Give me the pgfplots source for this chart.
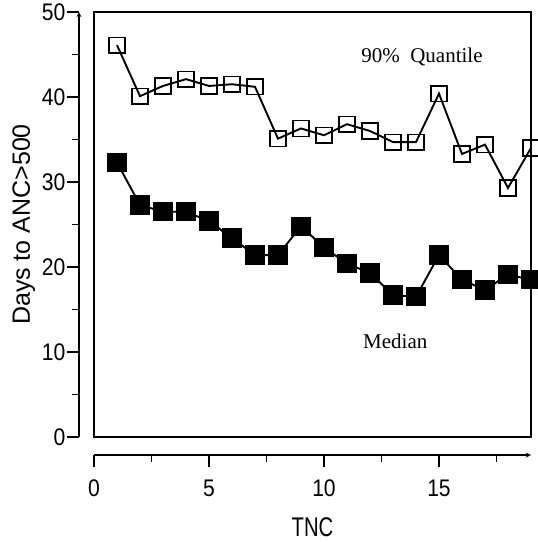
\documentclass[border=0pt]{standalone}
\usepackage{fontspec}
\setmainfont{Liberation Sans}
\newfontfamily\seriffont{Liberation Serif}
\usepackage{pgfplots}
\pgfplotsset{compat=1.18}
\newcommand{\tl}[1]{\scalebox{0.88}[1]{\fontsize{24}{26}\selectfont #1}}
\begin{document}
\begin{tikzpicture}
\pgfplotsset{
  base/.style={scale only axis, width=437pt, height=425pt,
    xmin=0, xmax=19, ymin=0, ymax=50, anchor=south west,
    axis line style={line width=1.3pt, -},
    every tick/.style={black, line width=1.3pt},
    major tick length=12pt, minor tick length=7pt,
    /pgf/number format/assume math mode=true},
}
\begin{axis}[base, at={(0pt,0pt)}, xtick=\empty, ytick=\empty, clip=true]
\addplot[black, line width=1.9pt, mark=square, mark size=7.8pt, mark options={line width=1.5pt, solid}] coordinates {
(1,46.1) (2,40.1) (3,41.3) (4,42.1) (5,41.3) (6,41.5) (7,41.2) (8,35.1) (9,36.3) (10,35.5)
(11,36.8) (12,36.0) (13,34.7) (14,34.7) (15,40.4) (16,33.3) (17,34.4) (18,29.3) (19,34.0)};
\addplot[black, line width=1.9pt, mark=square*, mark size=8.7pt] coordinates {
(1,32.3) (2,27.3) (3,26.5) (4,26.5) (5,25.4) (6,23.4) (7,21.4) (8,21.4) (9,24.8) (10,22.3)
(11,20.4) (12,19.3) (13,16.7) (14,16.5) (15,21.4) (16,18.5) (17,17.3) (18,19.1) (19,18.5)};
\node[font=\seriffont\fontsize{21}{24}\selectfont] at (axis cs:14.26,44.7) {90\%\ \ Quantile};
\node[font=\seriffont\fontsize{21}{24}\selectfont] at (axis cs:13.1,11.2) {Median};
\end{axis}
\begin{axis}[base, at={(-15pt,0pt)}, axis x line=none, axis y line=left,
  tick align=outside,
  ytick={0,10,...,50}, minor ytick={5,15,...,45},
  yticklabel style={xshift=2pt},
  yticklabel={\tl{\pgfmathprintnumber{\tick}}},
  ylabel={Days to ANC>500}, ylabel style={font=\fontsize{25}{27}\selectfont}]
\end{axis}
\begin{axis}[base, at={(0pt,-18pt)}, axis y line=none, axis x line=bottom,
  tick align=outside,
  xtick={0,5,10,15}, minor xtick={2.5,7.5,12.5,17.5},
  xticklabel style={yshift=-9pt},
  xticklabel={\tl{\pgfmathprintnumber{\tick}}},
  xlabel={\scalebox{0.75}[1]{TNC}}, xlabel style={font=\fontsize{27}{29}\selectfont, yshift=-14pt}]
\end{axis}
\pgfresetboundingbox
\path[use as bounding box] (-94pt,-105pt) rectangle (444pt,437pt);
\end{tikzpicture}
\end{document}
